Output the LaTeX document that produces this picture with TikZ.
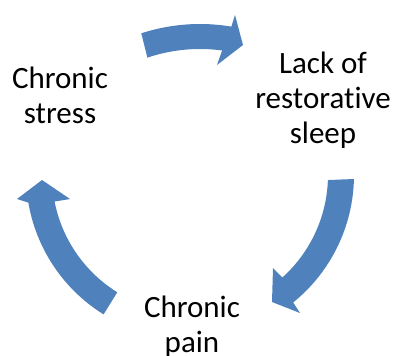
\documentclass[tikz,border=0pt]{standalone}
\usepackage{fontspec}
\setmainfont{Carlito}[Ligatures=NoCommon]
\definecolor{arrowblue}{HTML}{4F81BD}
\begin{document}
\begin{tikzpicture}[x=1pt,y=-1pt,
  label/.style={align=center,inner sep=0pt,anchor=base,font=\fontsize{31}{35}\selectfont,text=black},
  blockarrow/.style={fill=arrowblue,draw=none}]
\useasboundingbox (0,0) rectangle (394,356);
\coordinate (c) at (190,175);
\coordinate (c1) at (200,214);
% text (anchor = baseline of the last line)
\node[label] (stress) at (60,123) {Chronic\\stress};
\node[label] (sleep) at (323,143) {Lack of\\restorative\\sleep};
\node[label] (pain) at (192,352) {Chronic\\pain};
% top arrow
\fill[blockarrow] plot[domain=-108:-80.5,samples=30] ({200+190*cos(\x)},{214+190*sin(\x)})
  -- (235,15) -- (243,45) -- (217,65)
  -- plot[domain=-82.3:-108.6,samples=30] ({200+165*cos(\x)},{214+165*sin(\x)}) -- cycle;
% right arrow
\fill[blockarrow] plot[domain=1.4:51,samples=30] ({190+164*cos(\x)},{175+164*sin(\x)})
  -- (300,313) -- (272,302) -- (273,268)
  -- plot[domain=48:2.1,samples=30] ({190+138*cos(\x)},{175+138*sin(\x)}) -- cycle;
% left arrow
\fill[blockarrow] plot[domain=121.8:170.3,samples=30] ({190+164*cos(\x)},{175+164*sin(\x)})
  -- (17,199) -- (42,180) -- (70,199)
  -- plot[domain=168.9:121.8,samples=30] ({190+138*cos(\x)},{175+138*sin(\x)}) -- cycle;
\end{tikzpicture}
\end{document}
